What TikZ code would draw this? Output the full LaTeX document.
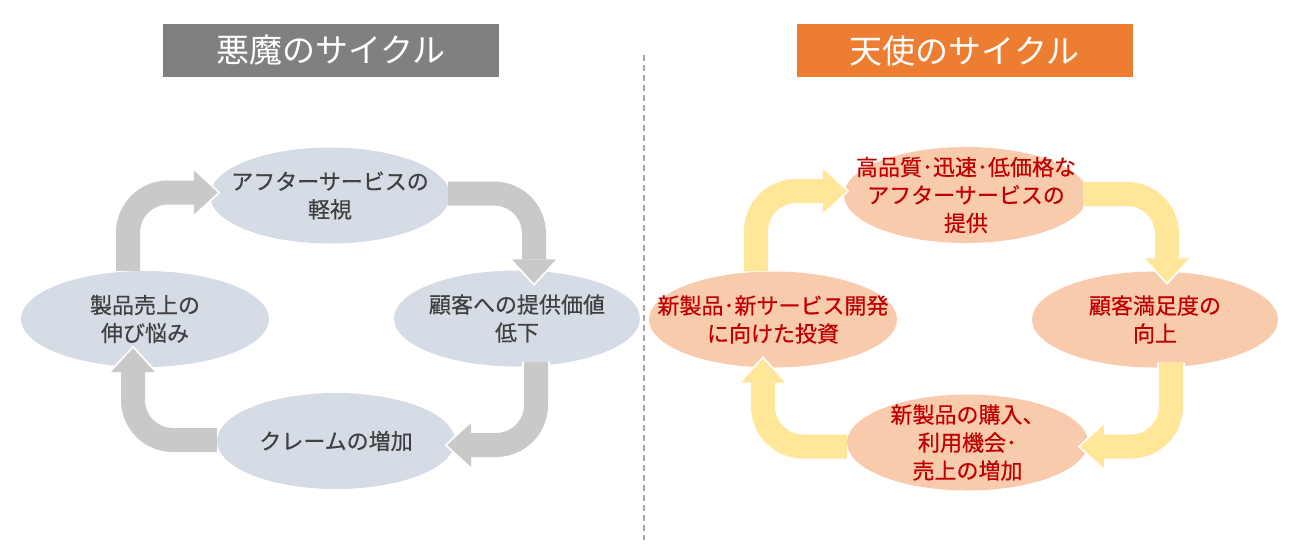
\documentclass[tikz,border=0pt]{standalone}
\usepackage{fontspec}
\setmainfont{Noto Sans CJK JP}
\newfontfamily\heavyjp{Noto Sans CJK JP}[FakeBold=0.5]
\usepackage{tikz}
\usetikzlibrary{calc,shapes.geometric,arrows.meta}

\definecolor{demongray}{RGB}{128,128,128}
\definecolor{angelorange}{RGB}{237,125,49}
\definecolor{blobgray}{RGB}{214,220,229}
\definecolor{bloborange}{RGB}{248,203,173}
\definecolor{arrgray}{RGB}{201,201,201}
\definecolor{arryellow}{RGB}{255,230,153}
\definecolor{txtgray}{RGB}{64,64,64}
\definecolor{txtred}{RGB}{192,0,0}

\tikzset{
  cyclehead/.style={minimum width=336pt, minimum height=53pt, inner sep=0pt,
                    text=white, font=\fontsize{33}{36}\selectfont},
  blob/.style={ellipse, minimum width=244pt, minimum height=96pt, inner sep=0pt},
  gblob/.style={blob, fill=blobgray},
  oblob/.style={blob, fill=bloborange},
  gtxt/.style={align=center, inner sep=0pt, text=txtgray, font=\heavyjp\fontsize{22}{28}\selectfont},
  otxt/.style={gtxt, text=txtred},
  cyc/.style={line width=24pt, rounded corners=40pt,
              -{Triangle[width=44pt,length=24pt,line width=0pt]},
              preaction={draw=white, line width=28pt, shorten >=-2.5pt,
                         -{Triangle[width=52pt,length=28pt,line width=0pt]}}},
  gcyc/.style={cyc, draw=arrgray},
  ocyc/.style={cyc, draw=arryellow},
}

\begin{document}
\begin{tikzpicture}[x=1pt,y=-1pt]
    \useasboundingbox (0,0) rectangle (1300,558);

    % titles
    \node[cyclehead, fill=demongray]   (devil) at (331,50.5)   {悪魔のサイクル};
    \node[cyclehead, fill=angelorange] (angel) at (964.5,50.5) {天使のサイクル};

    % divider
    \draw[demongray!70, line width=1.2pt, dash pattern=on 6pt off 4pt] (644,55) -- (644,540);

    % devil cycle
    \node[gblob, minimum width=240pt, label={[gtxt]center:{アフターサービスの\\軽視}}] (top) at (330,195.5) {};
    \node[gblob, minimum width=246pt, label={[gtxt]center:{顧客への提供価値\\低下}}] (rgt) at (517,318.5) {};
    \node[gblob, minimum width=238pt, label={[gtxt]center:{クレームの増加}}] (bot) at (336,441) {};
    \node[gblob, minimum width=248pt, label={[gtxt]center:{製品売上の\\伸び悩み}}] (lft) at (145,319) {};

    \draw[gcyc] ($(lft.north)+(-17,0)$) |- ($(top.west)+(8,-3)$);
    \draw[gcyc] ($(top.east)+(-2,-2)$) -| ($(rgt.north)+(17,13)$);
    \draw[gcyc] ($(rgt.south)+(19,-5)$) |- ($(bot.east)+(-8,4)$);
    \draw[gcyc] ($(bot.west)+(0,-1)$) -| ($(lft.south)+(-12,-19)$);

    % angel cycle
    \node[oblob, label={[otxt]center:{高品質･迅速･低価格な\\アフターサービスの\\提供}}] (top2) at (966,195) {};
    \node[oblob, minimum width=246pt, label={[otxt]center:{顧客満足度の\\向上}}] (rgt2) at (1155,319.5) {};
    \node[oblob, minimum width=241pt, label={[otxt]center:{新製品の購入、\\利用機会･\\売上の増加}}] (bot2) at (967.5,442.5) {};
    \node[oblob, minimum width=248pt, label={[otxt]center:{新製品･新サービス開発\\に向けた投資}}] (lft2) at (773,319.5) {};

    \draw[ocyc] ($(lft2.north)+(-17,0)$) |- ($(top2.west)+(3,-4)$);
    \draw[ocyc] ($(top2.east)+(-5,-1)$) -| ($(rgt2.north)+(12,11)$);
    \draw[ocyc] ($(rgt2.south)+(16,-5)$) |- ($(bot2.east)+(-8,4)$);
    \draw[ocyc] ($(bot2.west)+(0,4)$) -| ($(lft2.south)+(-10,-9)$);

\end{tikzpicture}
\end{document}
